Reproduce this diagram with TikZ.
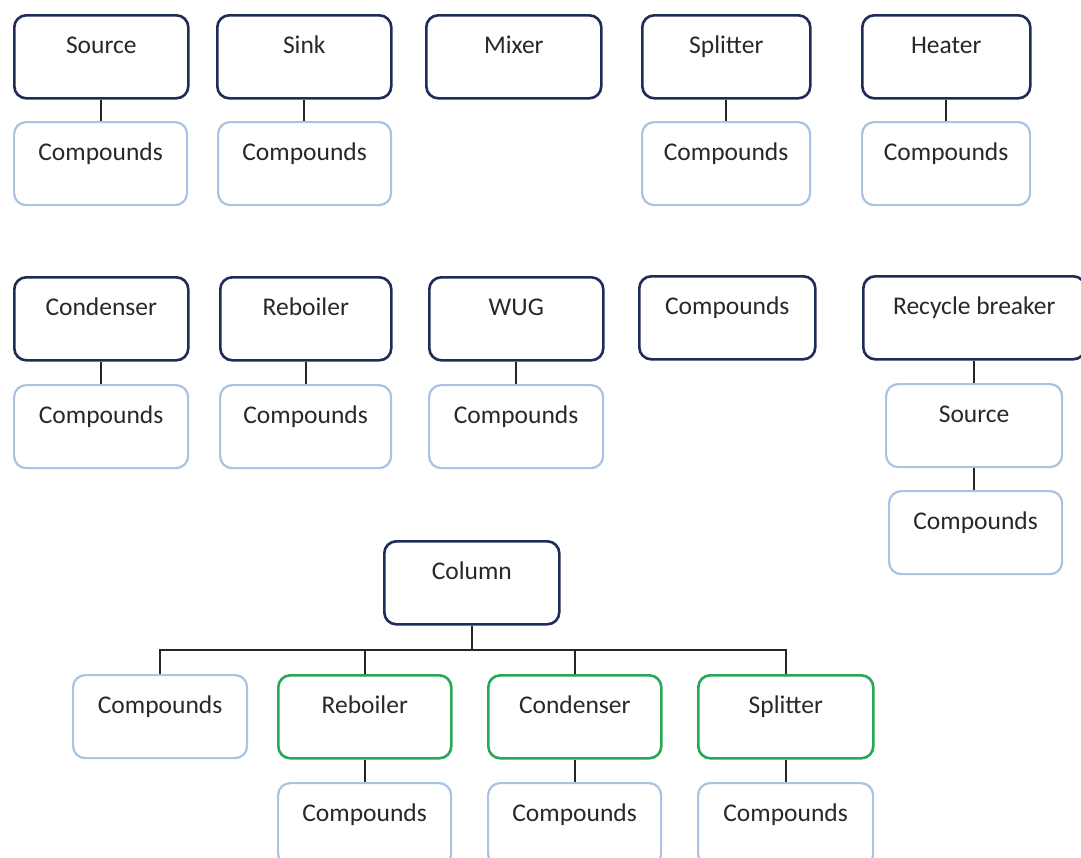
\documentclass[tikz,border=0pt]{standalone}
\usepackage{fontspec}
\setmainfont{Carlito}
\usetikzlibrary{calc}
\definecolor{navy}{RGB}{32,44,88}
\definecolor{lblue}{RGB}{168,196,226}
\definecolor{grn}{RGB}{38,168,88}
\definecolor{txt}{RGB}{40,40,40}
\tikzset{
 base/.style={rectangle, rounded corners=12pt, fill=white, inner xsep=0pt, inner ysep=0pt,
   text height=38pt, text depth=45pt, anchor=north west,
   font=\fontsize{25.5}{30}\selectfont, text=txt},
 dk/.style={base, draw=navy, line width=2.6pt},
 lt/.style={base, draw=lblue, line width=2.2pt},
 gr/.style={base, draw=grn, line width=2.6pt},
 link/.style={draw=black!85, line width=1.8pt},
}
\begin{document}
\begin{tikzpicture}[x=1pt,y=-1pt]
\useasboundingbox (0,0) rectangle (1081,857);
\fill[white] (0,0) rectangle (1081,857);
\clip (0,0) rectangle (1081,857);
% row 1
\node[dk, minimum width=174pt] (src1) at (13,14) {Source};
\node[dk, minimum width=174pt] (sink) at (216,14) {Sink};
\node[dk, minimum width=175pt] (mix) at (425,14) {Mixer};
\node[dk, minimum width=168pt] (spl1) at (641,14) {Splitter};
\node[dk, minimum width=168pt] (heat) at (861,14) {Heater};
\node[lt, minimum width=173pt] (c1) at (13,121) {Compounds};
\node[lt, minimum width=173pt] (c2) at (217,121) {Compounds};
\node[lt, minimum width=168pt] (c3) at (641,121) {Compounds};
\node[lt, minimum width=168pt] (c4) at (861,121) {Compounds};
% row 2
\node[dk, minimum width=174pt] (cond1) at (13,276) {Condenser};
\node[dk, minimum width=171pt] (reb1) at (219,276) {Reboiler};
\node[dk, minimum width=174pt] (wug) at (428,276) {WUG};
\node[dk, minimum width=176pt] (cmpd) at (638,275) {Compounds};
\node[dk, minimum width=222pt] (rec) at (862,275) {Recycle breaker};
\node[lt, minimum width=174pt] (c5) at (13,384) {Compounds};
\node[lt, minimum width=171pt] (c6) at (219,384) {Compounds};
\node[lt, minimum width=174pt] (c7) at (428,384) {Compounds};
\node[lt, minimum width=176pt] (src2) at (885,383) {Source};
\node[lt, minimum width=173pt] (c8) at (888,490) {Compounds};
% column tree
\node[dk, minimum width=175pt] (col) at (383,540) {Column};
\node[lt, minimum width=174pt] (c9) at (72,674) {Compounds};
\node[gr, minimum width=173pt] (reb2) at (277,674) {Reboiler};
\node[gr, minimum width=173pt] (cond2) at (487,674) {Condenser};
\node[gr, minimum width=175pt] (spl2) at (697,674) {Splitter};
\node[lt, minimum width=173pt] (c10) at (277,782) {Compounds};
\node[lt, minimum width=173pt] (c11) at (487,782) {Compounds};
\node[lt, minimum width=175pt] (c12) at (697,782) {Compounds};
% connectors
\foreach \a/\b in {src1/c1, sink/c2, spl1/c3, heat/c4, cond1/c5, reb1/c6, wug/c7,
  rec/src2, src2/c8, reb2/c10, cond2/c11, spl2/c12}
  \draw[link] (\a.south) -- (\a.south |- \b.north);
\coordinate (bus) at ($(col.south)+(0,24)$);
\draw[link] (col.south) -- (bus);
\draw[link] (c9.north) -- (c9.north |- bus) -- (spl2.north |- bus) -- (spl2.north);
\draw[link] (reb2.north) -- (reb2.north |- bus);
\draw[link] (cond2.north) -- (cond2.north |- bus);
\end{tikzpicture}
\end{document}
